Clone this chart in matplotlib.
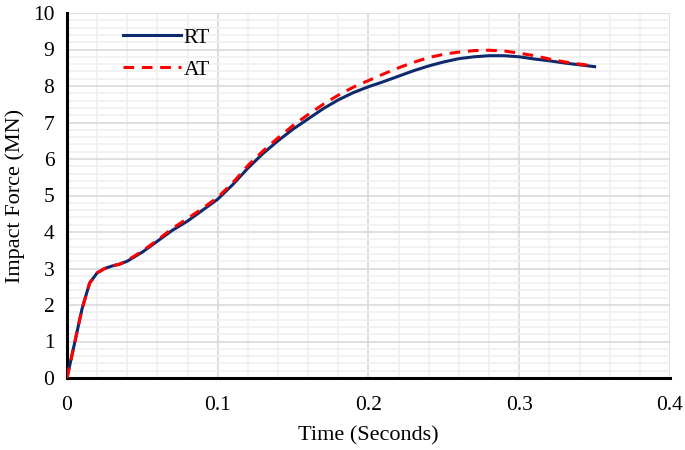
import matplotlib.pyplot as plt
from matplotlib.ticker import MultipleLocator

# Data
time_s = [0, 0.005, 0.01, 0.015, 0.02, 0.025, 0.03, 0.035, 0.04, 0.05, 0.06, 0.07,
          0.08, 0.09, 0.10, 0.11, 0.12, 0.13, 0.14, 0.15, 0.16, 0.17, 0.18, 0.19,
          0.20, 0.21, 0.22, 0.23, 0.24, 0.25, 0.26, 0.27, 0.28, 0.29, 0.30, 0.31,
          0.32, 0.33, 0.34, 0.35]
rt_force = [0, 0.95, 1.9, 2.6, 2.88, 3.0, 3.07, 3.12, 3.2, 3.45, 3.75, 4.05,
            4.3, 4.6, 4.9, 5.3, 5.75, 6.15, 6.5, 6.82, 7.1, 7.38, 7.62, 7.82,
            7.98, 8.12, 8.27, 8.42, 8.55, 8.66, 8.75, 8.8, 8.83, 8.83, 8.8, 8.74,
            8.69, 8.63, 8.58, 8.53]
at_force = [0, 0.95, 1.9, 2.6, 2.88, 3.0, 3.07, 3.12, 3.22, 3.48, 3.78, 4.1,
            4.37, 4.65, 4.95, 5.35, 5.82, 6.22, 6.58, 6.92, 7.22, 7.5, 7.75, 7.97,
            8.15, 8.33, 8.5, 8.65, 8.78, 8.87, 8.93, 8.97, 8.98, 8.96, 8.9, 8.83,
            8.74, 8.66, 8.6, 8.55]

plt.rcParams['font.family'] = ['Liberation Serif', 'DejaVu Serif']

fig = plt.figure(figsize=(6.85, 4.5), dpi=100)
ax = fig.add_axes([67 / 685, 72 / 450, 603 / 685, 365 / 450])

ax.plot(time_s, rt_force, color='#0E2A6C', lw=2.2, label='RT', zorder=3)
ax.plot(time_s, at_force, color='#FF0000', lw=2.2, ls=(0, (3.5, 2.5)), label='AT', zorder=4)

ax.set_xlim(0, 0.4)
ax.set_ylim(0, 10)
ax.xaxis.set_minor_locator(MultipleLocator(0.02))
ax.yaxis.set_major_locator(MultipleLocator(1))
ax.yaxis.set_minor_locator(MultipleLocator(0.2))
ax.set_xticks([0, 0.1, 0.2, 0.3, 0.4])
ax.set_xticklabels(['0', '0.1', '0.2', '0.3', '0.4'])

ax.grid(which='major', color='#D9D9D9', lw=1.2, zorder=0)
ax.grid(which='minor', color='#F0F0F0', lw=1.2, zorder=0)
ax.set_axisbelow(True)

for s in ['top', 'right']:
    ax.spines[s].set_visible(False)
for s in ['left', 'bottom']:
    ax.spines[s].set_linewidth(2.2)
    ax.spines[s].set_color('black')

ax.tick_params(which='both', length=0, labelsize=15.5, colors='black')
ax.tick_params(axis='x', pad=13)
ax.tick_params(axis='y', pad=9)

ax.set_xlabel('Time (Seconds)', fontsize=16, labelpad=8)
ax.set_ylabel('Impact Force (MN)', fontsize=16, labelpad=6)

ax.legend(loc='upper left', bbox_to_anchor=(0.06, 1.013), frameon=False, fontsize=15.5,
          handlelength=2.7, handletextpad=0.15, labelspacing=0.55)

fig.savefig('out.png', dpi=100)
